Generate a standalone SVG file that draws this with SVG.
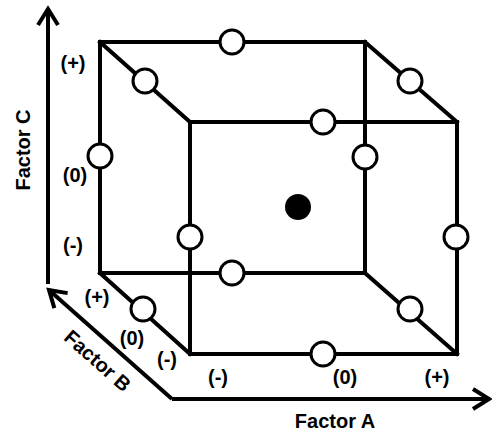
<svg xmlns="http://www.w3.org/2000/svg" width="492" height="434" viewBox="0 0 492 434">
<style>
.edge{stroke:#000;stroke-width:4;fill:none;stroke-linecap:square}
.axis{stroke:#000;stroke-width:4;fill:none}
.pt{fill:#fff;stroke:#000;stroke-width:3}
.ctr{fill:#000}
.lbl{font-family:"Liberation Sans",Arial,sans-serif;font-weight:bold;font-size:20px;fill:#000;text-anchor:middle}
.ttl{font-family:"Liberation Sans",Arial,sans-serif;font-weight:bold;font-size:20px;fill:#000;text-anchor:middle}
</style>
<defs>
<marker id="arr" markerUnits="userSpaceOnUse" markerWidth="40" markerHeight="40" viewBox="-20 -20 40 40" refX="0" refY="0" orient="auto" overflow="visible">
<path d="M -16 -10 L 0 0 L -16 10" fill="none" stroke="#000" stroke-width="4" stroke-linejoin="miter"/>
</marker>
</defs>
<rect width="492" height="434" fill="#fff"/>
<g id="connectors">
<path class="edge" d="M100 42 H365 V273 H100 Z"/>
<path class="edge" d="M190 122 H457 V354 H190 Z"/>
<path class="edge" d="M100 42 L190 122 M365 42 L457 122 M100 273 L190 354 M365 273 L457 354"/>
<line class="axis" x1="48" y1="284" x2="48" y2="9" marker-end="url(#arr)"/>
<line class="axis" x1="172" y1="399" x2="489" y2="399" marker-end="url(#arr)"/>
<line class="axis" x1="172" y1="399" x2="49" y2="290" marker-end="url(#arr)"/>
</g>
<g id="n1"><circle class="pt" cx="232" cy="42" r="12"/></g>
<g id="n2"><circle class="pt" cx="145" cy="81" r="12"/></g>
<g id="n3"><circle class="pt" cx="410" cy="81" r="12"/></g>
<g id="n4"><circle class="pt" cx="323" cy="122" r="12"/></g>
<g id="n5"><circle class="pt" cx="100" cy="156" r="12"/></g>
<g id="n6"><circle class="pt" cx="365" cy="157" r="12"/></g>
<g id="n7"><circle class="pt" cx="190" cy="237" r="12"/></g>
<g id="n8"><circle class="pt" cx="456" cy="237" r="12"/></g>
<g id="n9"><circle class="pt" cx="232" cy="273" r="12"/></g>
<g id="n10"><circle class="pt" cx="143" cy="309" r="12"/></g>
<g id="n11"><circle class="pt" cx="410" cy="309" r="12"/></g>
<g id="n12"><circle class="pt" cx="323" cy="354" r="12"/></g>
<g id="center"><circle class="ctr" cx="298" cy="207" r="13"/></g>
<g id="labels">
<text class="ttl" transform="translate(30 150) rotate(-90)">Factor C</text>
<text class="ttl" x="335" y="428">Factor A</text>
<text class="ttl" transform="translate(93 366) rotate(41.6)">Factor B</text>
<text class="lbl" x="73" y="70">(+)</text>
<text class="lbl" x="75" y="182">(0)</text>
<text class="lbl" x="73" y="252">(-)</text>
<text class="lbl" x="97" y="304">(+)</text>
<text class="lbl" x="132" y="345">(0)</text>
<text class="lbl" x="167" y="366">(-)</text>
<text class="lbl" x="218" y="384">(-)</text>
<text class="lbl" x="345" y="384">(0)</text>
<text class="lbl" x="437" y="384">(+)</text>
</g>
</svg>
